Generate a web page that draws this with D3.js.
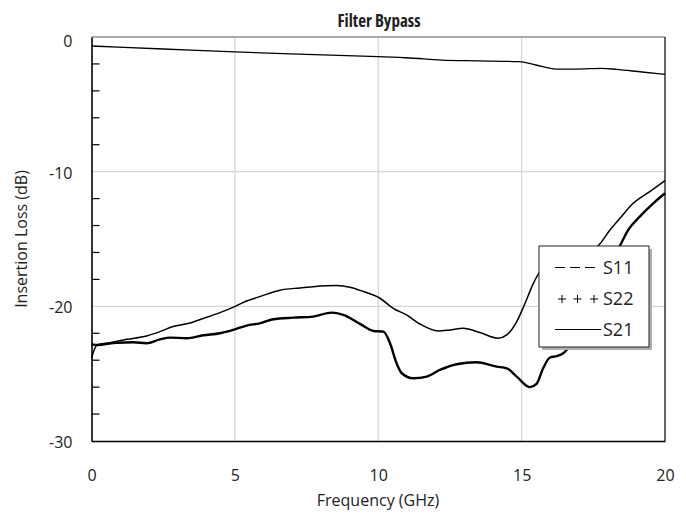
<!DOCTYPE html>
<html>
<head>
<meta charset="utf-8">
<script src="https://cdn.jsdelivr.net/npm/d3@7"></script>
<style>
  body { margin: 0; background: #fff; }
  svg text { font-family: "Open Sans", sans-serif; fill: #222; }
</style>
</head>
<body>
<div id="chart"></div>
<script>
// readings
const s21Freq = [0, 2.5, 5, 7.5, 10, 11.1, 12.2, 13.5, 14.9, 15.5, 16.2, 16.9, 17.8, 18.3, 19.2, 20];
const s21Loss = [-0.67, -0.89, -1.11, -1.29, -1.46, -1.56, -1.71, -1.77, -1.83, -2.08, -2.38, -2.38, -2.33, -2.4, -2.6, -2.77];

const s11Freq = [0, 0.19, 0.64, 1.23, 1.92, 2.39, 2.85, 3.32, 3.9, 4.48, 4.99, 5.41, 5.87, 6.57, 7.27, 7.73, 8.55, 9.01, 9.48, 10.06, 10.52, 10.99, 11.45, 12.09, 12.5, 12.96, 13.55, 14.18, 14.48, 14.83, 15.12, 15.41, 15.64, 16.0, 16.5, 17.0, 17.4, 17.67, 18.08, 18.43, 18.89, 19.47, 20];
const s11Loss = [-23.85, -22.87, -22.7, -22.45, -22.2, -21.88, -21.5, -21.3, -20.9, -20.47, -20.02, -19.6, -19.28, -18.8, -18.63, -18.54, -18.46, -18.58, -18.9, -19.4, -20.15, -20.64, -21.31, -21.83, -21.75, -21.63, -21.95, -22.37, -22.12, -21.13, -19.77, -18.29, -17.42, -16.9, -16.4, -16.05, -15.8, -15.5, -14.33, -13.46, -12.35, -11.48, -10.67];

const s22Freq = [0, 0.19, 0.88, 1.46, 1.92, 2.39, 2.74, 3.32, 3.9, 4.48, 4.94, 5.41, 5.87, 6.34, 7.04, 7.73, 8.37, 8.78, 9.36, 9.83, 10.18, 10.41, 10.64, 10.82, 11.22, 11.69, 12.15, 12.73, 13.43, 14.13, 14.48, 14.83, 15.29, 15.52, 15.75, 15.99, 16.22, 16.45, 16.57, 17.0, 17.5, 18.0, 18.43, 18.72, 19.12, 19.59, 20];
const s22Loss = [-22.8, -22.87, -22.7, -22.67, -22.74, -22.45, -22.32, -22.37, -22.15, -22.0, -21.75, -21.43, -21.26, -20.96, -20.84, -20.76, -20.47, -20.64, -21.3, -21.83, -21.88, -22.74, -24.23, -24.97, -25.34, -25.22, -24.72, -24.3, -24.15, -24.48, -24.6, -25.22, -26.0, -25.76, -24.6, -23.8, -23.7, -23.48, -23.24, -21.6, -19.5, -17.3, -15.5, -14.33, -13.34, -12.35, -11.6];

const xTicks = [0, 5, 10, 15, 20];
const yTicks = [0, -10, -20, -30];
const yMinorTicks = [-2, -4, -6, -8, -12, -14, -16, -18, -22, -24, -26, -28];
const legendNames = ['S11', 'S22', 'S21'];

const w = 686, h = 514;
const pLeft = 91.5, pRight = 665, pTop = 37, pBottom = 441;

const svg = d3.select('#chart')
  .append('svg')
  .attr('width', w)
  .attr('height', h);

const xScale = d3.scaleLinear().domain([0, 20]).range([pLeft, pRight]);
const yScale = d3.scaleLinear().domain([-30, 0]).range([pBottom, pTop]);

// grid
svg.append('g')
  .selectAll('line')
  .data(xTicks.slice(1, -1))
  .enter()
  .append('line')
  .attr('x1', d => xScale(d)).attr('x2', d => xScale(d))
  .attr('y1', pTop).attr('y2', pBottom)
  .attr('stroke', '#d6d6d6').attr('stroke-width', 1.3);

svg.append('g')
  .selectAll('line')
  .data(yTicks.slice(1, -1))
  .enter()
  .append('line')
  .attr('x1', pLeft).attr('x2', pRight)
  .attr('y1', d => yScale(d)).attr('y2', d => yScale(d))
  .attr('stroke', '#d6d6d6').attr('stroke-width', 1.3);

// minor ticks inside the left axis
svg.append('g')
  .selectAll('line')
  .data(yMinorTicks)
  .enter()
  .append('line')
  .attr('x1', pLeft).attr('x2', pLeft + 8)
  .attr('y1', d => yScale(d)).attr('y2', d => yScale(d))
  .attr('stroke', '#000').attr('stroke-width', 1.2);

// frame
svg.append('line').attr('x1', pLeft).attr('x2', pRight).attr('y1', pTop).attr('y2', pTop)
  .attr('stroke', '#8c8c8c').attr('stroke-width', 1.5);
svg.append('line').attr('x1', pRight).attr('x2', pRight).attr('y1', pTop).attr('y2', pBottom)
  .attr('stroke', '#111').attr('stroke-width', 1.3);

const xAxis = d3.axisBottom(xScale).tickValues(xTicks).tickSize(0).tickPadding(29).tickFormat(d => String(d));
const yAxis = d3.axisLeft(yScale).tickValues(yTicks).tickSize(0).tickPadding(19).tickFormat(d => String(d));

const gx = svg.append('g')
  .attr('transform', `translate(0, ${pBottom})`)
  .call(xAxis);
gx.select('.domain').attr('stroke', '#000').attr('stroke-width', 1.6);
gx.selectAll('text').attr('font-size', 16).attr('font-family', '"Open Sans", sans-serif');

const gy = svg.append('g')
  .attr('transform', `translate(${pLeft}, 0)`)
  .call(yAxis);
gy.select('.domain').attr('stroke', '#000').attr('stroke-width', 1.6);
gy.selectAll('text').attr('font-size', 16).attr('font-family', '"Open Sans", sans-serif')
  .attr('dy', d => d === 0 ? '0.62em' : '0.4em');

// curves
const line = d3.line()
  .x(d => xScale(d[0]))
  .y(d => yScale(d[1]))
  .curve(d3.curveMonotoneX);

const series = [
  {f: s21Freq, v: s21Loss, width: 1.3},
  {f: s11Freq, v: s11Loss, width: 1.5},
  {f: s22Freq, v: s22Loss, width: 2.4}
];

svg.append('g')
  .selectAll('path')
  .data(series)
  .enter()
  .append('path')
  .attr('d', d => line(d.f.map((x, i) => [x, d.v[i]])))
  .attr('fill', 'none')
  .attr('stroke', '#000')
  .attr('stroke-width', d => d.width)
  .attr('stroke-linejoin', 'round');

// titles
svg.append('text')
  .attr('x', 379).attr('y', 27)
  .attr('text-anchor', 'middle')
  .attr('font-family', '"DejaVu Sans Condensed", "Open Sans", sans-serif')
  .attr('font-stretch', 'condensed')
  .attr('font-size', 17).attr('font-weight', 'bold')
  .attr('fill', '#111')
  .text('Filter Bypass');

svg.append('text')
  .attr('x', 378).attr('y', 506)
  .attr('text-anchor', 'middle')
  .attr('font-size', 16)
  .text('Frequency (GHz)');

svg.append('text')
  .attr('transform', 'translate(27, 239) rotate(-90)')
  .attr('text-anchor', 'middle')
  .attr('font-size', 16)
  .text('Insertion Loss (dB)');

// legend
const lg = svg.append('g').attr('transform', 'translate(539, 246)');
lg.append('rect').attr('x', 3).attr('y', 3).attr('width', 110).attr('height', 101)
  .attr('fill', '#b0b0b0');
lg.append('rect').attr('width', 110).attr('height', 101)
  .attr('fill', '#fff').attr('stroke', '#222').attr('stroke-width', 1);

const rowY = [21.5, 53, 83.5];

lg.append('line').attr('x1', 16).attr('x2', 61).attr('y1', rowY[0]).attr('y2', rowY[0])
  .attr('stroke', '#000').attr('stroke-width', 1).attr('stroke-dasharray', '10,5');

lg.append('g')
  .selectAll('path')
  .data([23, 38.5, 55])
  .enter()
  .append('path')
  .attr('d', d => `M${d - 4},${rowY[1]}h8M${d},${rowY[1] - 4}v8`)
  .attr('stroke', '#000').attr('stroke-width', 1);

lg.append('line').attr('x1', 16).attr('x2', 62).attr('y1', rowY[2]).attr('y2', rowY[2])
  .attr('stroke', '#000').attr('stroke-width', 1);

lg.selectAll('text.leg')
  .data(legendNames)
  .enter()
  .append('text')
  .attr('class', 'leg')
  .attr('x', 64)
  .attr('y', (d, i) => rowY[i])
  .attr('dy', '0.36em')
  .attr('font-family', '"Liberation Sans", sans-serif')
  .attr('font-size', 18)
  .text(d => d);
</script>
</body>
</html>
